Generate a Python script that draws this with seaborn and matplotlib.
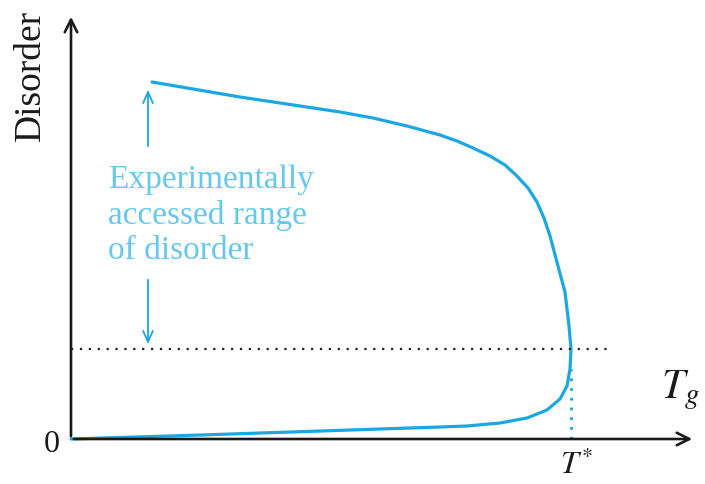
import numpy as np
import pandas as pd
import matplotlib
matplotlib.use("Agg")
import matplotlib.pyplot as plt
import seaborn as sns

# curve: glass temperature vs disorder (arbitrary units)
tg = [0.81, 1.69, 2.69, 3.02, 3.36, 3.69, 3.86, 4.02, 4.19, 4.34, 4.46, 4.57, 4.66, 4.73,
      4.79, 4.87, 4.94, 4.98, 5.00, 4.99, 4.96, 4.89, 4.76, 4.56, 4.29, 3.96,
      3.69, 2.50, 1.30, 0.0]
disorder = [3.57, 3.42, 3.27, 3.21, 3.13, 3.04, 2.98, 2.91, 2.83, 2.74, 2.63, 2.51, 2.37, 2.21,
            2.03, 1.73, 1.47, 1.13, 0.90, 0.70, 0.53, 0.40, 0.29, 0.21, 0.16, 0.13,
            0.12, 0.08, 0.04, 0.0]
t_star = 5.00
exp_low = 0.90      # dotted line, lowest accessed disorder
exp_high = 3.57
arrow_x = 0.77
x_end = 6.24
y_end = 4.25

df = pd.DataFrame({"Tg": tg, "Disorder": disorder})

sns.set_style("white")
plt.rcParams["mathtext.fontset"] = "stix"
serif = ["Liberation Serif", "DejaVu Serif"]
blue = "#1ba7e1"
light = "#66c8ef"

fig = plt.figure(figsize=(7.05, 4.85), dpi=100)
ax = fig.add_axes([0, 0, 1, 1])
ax.set_xlim(-0.71, 6.34)
ax.set_ylim(-0.45, 4.40)
ax.axis("off")

# axes with arrows
ax.annotate("", xy=(x_end, 0), xytext=(0, 0),
            arrowprops=dict(arrowstyle="->,head_length=0.9,head_width=0.45", color="#1a1a1a", lw=1.9))
ax.annotate("", xy=(0, y_end), xytext=(0, 0),
            arrowprops=dict(arrowstyle="->,head_length=0.9,head_width=0.45", color="#1a1a1a", lw=1.9))

sns.lineplot(data=df, x="Tg", y="Disorder", sort=False, estimator=None,
             color=blue, lw=2.3, ax=ax, solid_joinstyle="round")

# dotted guides
ax.plot([0, 5.39], [exp_low, exp_low], ls=(0, (1, 3)), color="#222222", lw=1.6)
ax.plot([t_star, t_star], [0, 0.70], ls=(0, (1, 2.5)), color=blue, lw=2.0)

# range arrows
ax.annotate("", xy=(arrow_x, exp_high - 0.05), xytext=(arrow_x, 2.90),
            arrowprops=dict(arrowstyle="->,head_length=0.8,head_width=0.35", color=blue, lw=1.3))
ax.annotate("", xy=(arrow_x, exp_low + 0.02), xytext=(arrow_x, 1.62),
            arrowprops=dict(arrowstyle="->,head_length=0.8,head_width=0.35", color=blue, lw=1.3))

ax.text(0.37, 2.25, "Experimentally\naccessed range\nof disorder", color=light,
        family=serif, fontsize=24, ha="left", va="center", linespacing=1.2)

ax.text(-0.40, 3.65, "Disorder", rotation=90, family=serif, fontsize=27,
        ha="center", va="center", color="#1a1a1a")
ax.text(-0.19, -0.05, "0", family=serif, fontsize=23, ha="center", va="center", color="#1a1a1a")
ax.text(5.90, 0.50, "$T_g$", fontsize=30, ha="left", va="center", color="#1a1a1a")
ax.text(t_star + 0.05, -0.26, "$T^{*}$", fontsize=23, ha="center", va="center", color="#1a1a1a")

fig.savefig("out.png", dpi=100)
